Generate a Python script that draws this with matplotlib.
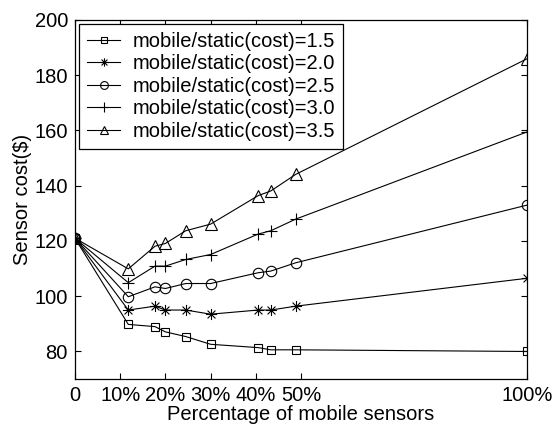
import matplotlib
matplotlib.use('Agg')
import matplotlib.pyplot as plt
from matplotlib.path import Path

plt.rcParams['font.family'] = ['Liberation Sans', 'DejaVu Sans']

# percentage of mobile sensors
pct = [0, 11.8, 17.7, 20, 24.5, 30, 40.5, 43.3, 48.8, 100]

# sensor cost for each mobile/static cost ratio
cost_15 = [121, 89.8, 89.0, 87.1, 85.4, 82.6, 81.4, 80.6, 80.6, 80.0]
cost_20 = [121, 95.0, 96.4, 95.0, 95.0, 93.5, 95.0, 95.0, 96.4, 106.5]
cost_25 = [121, 99.8, 103.4, 102.8, 104.6, 104.6, 108.5, 109.1, 112.1, 133.0]
cost_30 = [121, 104.9, 110.9, 110.9, 113.3, 115.1, 122.5, 123.7, 127.9, 159.5]
cost_35 = [121, 109.9, 118.1, 119.1, 123.7, 126.1, 136.4, 138.1, 144.1, 186.0]

labels = ['mobile/static(cost)=1.5', 'mobile/static(cost)=2.0',
          'mobile/static(cost)=2.5', 'mobile/static(cost)=3.0',
          'mobile/static(cost)=3.5']

xticks = [0, 10, 20, 30, 40, 50, 100]
xticklabels = ['0', '10%', '20%', '30%', '40%', '50%', '100%']
yticks = [80, 100, 120, 140, 160, 180, 200]

# matlab style asterisk: plus and cross drawn together
d = 0.7071
asterisk = Path([(-1, 0), (1, 0), (0, -1), (0, 1),
                 (-d, -d), (d, d), (-d, d), (d, -d)],
                [Path.MOVETO, Path.LINETO] * 4)

fig = plt.figure(figsize=(5.55, 4.25), dpi=100)
ax = fig.add_axes([0.135, 0.108, 0.815, 0.845])

series = [cost_15, cost_20, cost_25, cost_30, cost_35]
markers = ['s', asterisk, 'o', '+', '^']
msizes = [6, 8, 7.5, 9, 8]
for vals, m, ms, lab in zip(series, markers, msizes, labels):
    ax.plot(pct, vals, color='black', linewidth=0.8, marker=m, markersize=ms,
            markerfacecolor='none', markeredgecolor='black',
            markeredgewidth=0.8, label=lab)

ax.set_xlim(0, 100)
ax.set_ylim(70, 200)
ax.set_xticks(xticks)
ax.set_xticklabels(xticklabels)
ax.set_yticks(yticks)
ax.tick_params(direction='in', top=True, right=True, length=4, width=0.8,
               labelsize=14.5, pad=5)
for s in ax.spines.values():
    s.set_linewidth(0.9)

ax.set_xlabel('Percentage of mobile sensors', fontsize=14.5, labelpad=0)
ax.set_ylabel('Sensor cost($)', fontsize=14.5, labelpad=2)

leg = ax.legend(loc='upper left', fontsize=14.5, frameon=True, fancybox=False,
                edgecolor='black', framealpha=1, labelspacing=0.17,
                handlelength=1.65, handletextpad=0.6, borderpad=0.4,
                borderaxespad=0.2, markerscale=0.75)
leg.get_frame().set_linewidth(0.9)

fig.savefig('out.png', dpi=100)
